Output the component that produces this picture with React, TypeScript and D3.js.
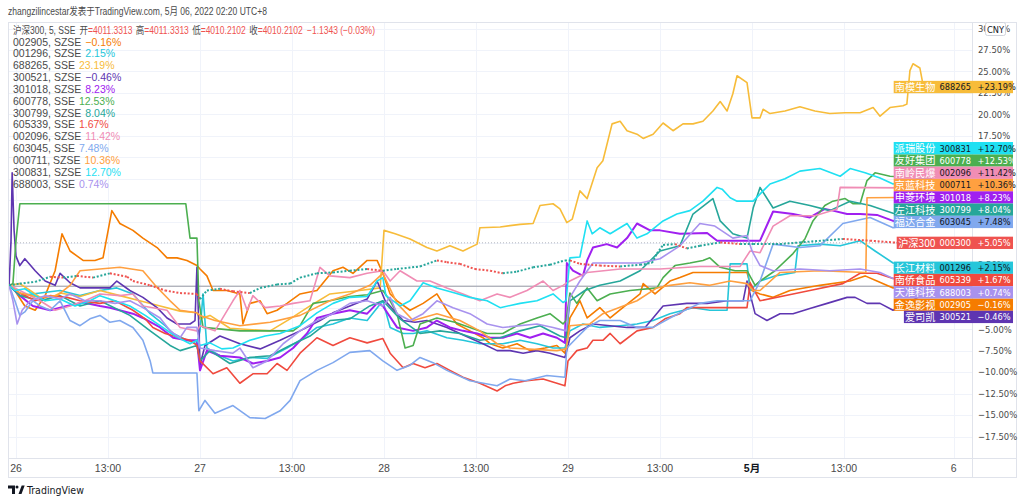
import React from 'react';
import * as d3 from 'd3';

// ---------- data ----------
// time unit: 5-minute bar index, bar 0 = 26 Apr 09:30, 48 bars per session
const timeTickBars = [0, 24, 48, 72, 96, 120, 144, 168, 192, 216, 244.6];
const timeTickLabels = ['26', '13:00', '27', '13:00', '28', '13:00', '29', '13:00', '5月', '13:00', '6'];
const pctTicks = [30, 27.5, 25, 22.5, 20, 17.5, 15, 12.5, 10, 7.5, 5, 2.5, 0, -2.5, -5, -7.5, -10, -12.5, -15, -17.5];

const indexName = '沪深300';
const indexCode = '000300';
const indexChange = 5.05;
const indexOHLC = ['4011.3313', '4011.3313', '4010.2102', '4010.2102'];
const indexDelta = '−1.1343 (−0.03%)';

const seriesCodes = ['002905', '001296', '688265', '300521', '301018', '600778', '300799', '605339', '002096', '603045', '000711', '300831', '688003'];
const seriesExchanges = ['SZSE', 'SZSE', 'SSE', 'SZSE', 'SZSE', 'SSE', 'SZSE', 'SSE', 'SZSE', 'SSE', 'SZSE', 'SZSE', 'SSE'];
const seriesNames = ['金逸影视', '长江材料', '南模生物', '爱司凯', '申菱环境', '友好集团', '左江科技', '南侨食品', '南岭民爆', '福达合金', '京蓝科技', '派瑞股份', '天准科技'];
const seriesChange = [-0.16, 2.15, 23.19, -0.46, 8.23, 12.53, 8.04, 1.67, 11.42, 7.48, 10.36, 12.70, 0.74];
const seriesColors = ['#f57c00', '#26c6da', '#f7bc3a', '#5e35b1', '#a020f0', '#4caf50', '#26a69a', '#f04a3e', '#f08db5', '#80a8ee', '#ffa040', '#1fe0f2', '#a892ee'];

// [bar, % change] pairs
const d002905 = [-1.8,0.1, -0.3,-0.5, 2.3,-2.3, 5,-2.8, 7.6,-1.1, 10.2,1.8, 12,6.1, 14.1,4.1, 17.5,3.0, 20.6,3.0, 22.7,3.3, 25,8.8, 27.1,7.3, 30.5,6.5, 33.1,5.6, 36.8,4.5, 39.4,3.3, 42,3.3, 44.6,3.0, 47.2,2.4, 48,2.0, 49.8,1.2, 51.4,-0.5, 55,-0.5, 58.4,-0.9, 59.2,-4.4, 61,-2.0, 63.7,-1.7, 65.5,-3.2, 68.1,-2.8, 70.7,-2.0, 74.1,-0.9, 78.5,-0.5, 82.7,1.8, 85.3,2.2, 87.9,1.5, 91.6,3.0, 94.2,3.0, 95.7,1.5, 97.6,-0.9, 99.4,-1.7, 102.8,-2.8, 106.2,-2.0, 109.8,-0.9, 112.4,-2.8, 115,-4.4, 118.4,-5.2, 121.8,-6.0, 123.7,-6.7, 127,-7.2, 130.7,-6.7, 134.1,-7.5, 138,-7.2, 141.1,-6.9, 143.2,-7.8, 144.5,-3.7, 147.1,-1.7, 149,-3.7, 152.3,-2.5, 155,-3.7, 158.3,-2.5, 162.8,-0.9, 163.6,0.3, 166.7,-0.9, 170.6,0.6, 173.2,1.0, 176.6,1.6, 190.7,1.6, 192,-0.5, 194.1,-0.9, 197.5,-1.3, 201.9,-0.5, 209.7,0.1, 217.6,0.6, 221.5,1.2, 224.6,0.6, 228.8,-0.2, 239,-0.16];
const d001296 = [-1.8,0.1, 1,-1.1, 6.3,-0.8, 11.5,-0.5, 16.7,-1.1, 21.9,-0.5, 26.3,-0.2, 30.5,-0.9, 35,-3.2, 38.9,-4.6, 41,-5.5, 44.6,-6.3, 47.2,-6.7, 48,-5.2, 48.8,-0.9, 49.8,-7.2, 53.2,-8.1, 56.6,-8.7, 61,-8.3, 65.5,-8.4, 70.7,-7.2, 74.1,-6.3, 78.5,-4.8, 82.7,-4.4, 87.1,-3.7, 91.6,-4.0, 95.7,-1.7, 97.6,-4.8, 101,-5.5, 103.6,-5.5, 107.2,-5.2, 112.4,-6.0, 116.6,-6.3, 121,-6.7, 127,-6.7, 131.5,-6.3, 135.9,-6.7, 140.1,-7.2, 143.2,-7.2, 144.5,-5.2, 147.9,-4.4, 152.3,-4.8, 157.6,-4.6, 162,-4.4, 166.2,-4.0, 170.6,-3.2, 176.6,-2.5, 181,-2.8, 185.5,-2.8, 186.3,2.6, 190.7,2.6, 191.5,-0.5, 194.1,0.6, 198,1.2, 203.2,1.6, 204,4.7, 209.7,4.9, 215,4.7, 220.2,5.3, 224.1,4.1, 228.8,2.7, 239,2.15];
const d688265 = [-1.8,0.1, 1,0.3, 3.7,-0.5, 7.6,-1.7, 11.5,-0.8, 16.7,-1.2, 21.9,-0.5, 27.1,-1.1, 32.3,-1.7, 37.6,-2.3, 42.8,-2.9, 47.2,-3.1, 48,-3.8, 50.6,-3.4, 55.8,-4.9, 66.3,-5.2, 71.5,-3.8, 76.7,-2.3, 81.9,-0.9, 89.7,-0.5, 95,-0.2, 96,6.5, 98.9,6.1, 102.8,5.5, 107.2,4.5, 109.8,4.1, 113.2,4.7, 116.6,4.1, 120.3,4.9, 121,6.8, 126.3,6.9, 131.5,7.2, 134.9,7.3, 136.7,9.4, 140.1,9.6, 141.9,9.0, 143.7,7.4, 145.1,7.8, 147.1,11.1, 149,10.2, 151.6,13.8, 153.1,14.6, 155.5,18.9, 157.6,19.2, 159.4,18.1, 162,17.7, 163.6,17.2, 166.2,17.7, 168.8,19.0, 171.4,18.1, 174,18.9, 176.6,18.9, 179.2,19.2, 181.8,20.4, 183.7,21.5, 185.5,20.4, 187,22.4, 188.1,24.5, 190.7,23.7, 192,19.6, 194.1,19.6, 194.9,20.6, 196.7,20.1, 200.6,20.4, 204.5,20.9, 208.4,20.4, 212.3,20.1, 216.3,20.2, 220.2,20.2, 223.6,20.8, 225.4,19.8, 228,20.8, 231.4,21.0, 232.4,21.2, 233.2,25.1, 234,25.9, 235.8,25.4, 236.6,23.5, 239,23.19];
const d300521 = [-1.8,0.1, -1.3,5.3, -1,13.2, -0.5,6.5, 0,3.5, 1,2.4, 2.3,3.2, 5,1.8, 7.6,0.6, 10.2,0.1, 11.5,1.5, 14.1,0.4, 16.7,-0.2, 24.5,-0.2, 26.3,0.6, 29.7,-0.5, 33.1,-1.3, 36.8,-2.5, 39.4,-3.7, 42,-4.4, 45.4,-4.4, 46.7,-4.0, 47.2,2.2, 48,-9.2, 49.3,-6.9, 53.2,-5.8, 58.4,-6.7, 63.7,-7.3, 68.9,-6.3, 74.1,-5.2, 79.3,-4.0, 82.7,-3.1, 87.1,-2.3, 91.6,-1.5, 94.2,0.6, 96.3,-1.7, 101,-4.0, 104.1,-4.2, 107.2,-4.0, 112.4,-4.8, 115.8,-5.5, 121.8,-6.7, 125.5,-7.5, 128.9,-7.5, 132.3,-7.8, 135.9,-7.5, 139.3,-7.8, 143.2,-8.3, 144.5,-6.0, 147.1,-5.2, 150.5,-4.4, 159.4,-4.8, 164.1,-4.8, 166.2,-3.7, 168.8,-2.3, 175,-2.0, 180.3,-2.0, 185.5,-1.7, 189.7,-1.7, 190.7,0.6, 191.5,-0.9, 192.8,-3.2, 195.9,-4.0, 199.3,-3.2, 202.7,-3.2, 207.1,-2.6, 211.6,-2.0, 216.8,-1.3, 218.9,-1.3, 222,-2.0, 225.4,-2.0, 228.8,-2.8, 239,-0.46];
const d301018 = [-1.8,0.1, 1,-1.1, 4.4,-2.3, 8.9,-2.8, 13.3,-2.3, 17.5,-1.9, 21.9,-2.3, 24.5,-2.5, 30.5,-3.2, 33.1,-3.7, 37.6,-4.8, 41,-6.0, 44.6,-6.3, 47.2,-6.3, 48,-9.8, 49.8,-7.5, 53.2,-8.1, 58.4,-8.3, 61.8,-9.0, 65.5,-8.7, 68.9,-8.3, 72.3,-7.2, 75.9,-5.5, 78.5,-3.7, 82.7,-3.2, 87.1,-2.8, 91.6,-3.2, 94.2,-2.0, 95.7,-2.3, 99.4,-4.8, 103.6,-5.2, 107.2,-4.8, 109.8,-4.0, 113.2,-4.8, 116.6,-5.2, 120.3,-5.5, 123.7,-6.0, 127,-6.0, 130.7,-5.5, 134.1,-6.0, 137.5,-5.5, 141.1,-6.0, 143.2,-6.6, 143.7,2.7, 145.3,1.8, 147.9,1.2, 149,3.0, 150.5,4.5, 154.1,4.9, 156.8,4.5, 159.4,5.6, 162,7.3, 165.4,6.5, 168,6.5, 173.2,6.1, 180.3,6.2, 182.9,5.3, 190.7,5.3, 194.1,5.3, 197.5,8.7, 202.7,8.4, 207.1,8.0, 211,9.0, 213.1,8.8, 216.8,8.4, 220.2,8.4, 224.6,8.3, 228.8,7.6, 239,8.23];
const d600778 = [-1.8,0.1, -0.8,0.3, 0,5.3, 1,9.6, 44.3,9.6, 45.4,5.6, 47.2,5.6, 47.7,-1.7, 48.8,-4.8, 58.4,-5.2, 72.3,-5.2, 74.1,-4.6, 77.5,-2.0, 81.9,-1.7, 87.1,-1.2, 91.6,-1.0, 95.7,-0.5, 97.6,-1.7, 99.4,-3.2, 101.5,-7.2, 103.6,-6.9, 105.4,-4.4, 109.8,-3.7, 114.5,-4.2, 118.4,-4.8, 122.9,-5.5, 127,-5.5, 131.5,-4.4, 135.9,-3.7, 139.3,-3.2, 142.7,-4.4, 143.5,-4.0, 144.5,-0.8, 146.3,-2.0, 149,-0.2, 151.6,-1.7, 155,-0.9, 160.2,-0.5, 167.2,-0.2, 168.8,1.0, 171.9,2.4, 175.8,2.7, 179.2,3.0, 181,3.3, 183.7,2.2, 187.6,1.8, 190.7,1.8, 192.8,0.1, 194.1,0.6, 198,1.8, 202.7,3.8, 205.8,5.5, 207.9,7.6, 211,9.4, 213.1,9.9, 216.3,10.2, 218.4,9.6, 220.2,9.6, 222,12.3, 224.1,13.2, 228,12.8, 239,12.53];
const d300799 = [-1.8,0.1, 1,-1.1, 6.3,-1.7, 11.5,-1.1, 16.7,-2.3, 21.9,-1.7, 29.7,-3.4, 35,-5.2, 40.2,-6.9, 42.8,-7.5, 47.2,-6.9, 48,-8.7, 50.6,-7.5, 55.8,-9.0, 61,-8.3, 66.3,-8.1, 71.5,-6.9, 76.7,-5.8, 81.9,-4.0, 87.1,-3.8, 92.3,-2.3, 95.7,-1.7, 100.2,-3.8, 105.4,-5.5, 110.6,-5.2, 115.8,-5.5, 121,-6.3, 126.3,-6.0, 131.5,-5.2, 136.7,-4.6, 141.9,-5.8, 143.5,-6.0, 144.5,-1.7, 148.4,-0.5, 152.3,0.1, 157.6,0.6, 162.8,1.8, 168,4.1, 173.2,4.7, 176.6,8.4, 181.8,10.2, 183.7,7.6, 187,6.1, 190.7,5.6, 192.3,9.1, 194.1,11.5, 197.5,9.1, 201.9,9.9, 207.1,9.4, 212.3,8.8, 217.6,9.9, 222.8,9.4, 228.8,8.5, 239,8.04];
const d605339 = [-1.8,0.1, 1,-0.8, 5,-1.7, 8.9,-1.1, 13.3,-1.3, 16.7,-1.7, 21.9,-2.0, 25.8,-1.7, 30.5,-2.8, 33.7,-3.8, 35.7,-4.8, 38.9,-5.5, 42.8,-6.0, 45.4,-6.3, 47.2,-6.9, 48,-8.7, 51.4,-10.2, 55,-9.5, 58.4,-11.3, 61.8,-10.2, 65.5,-10.2, 68.1,-9.0, 70.7,-9.8, 74.1,-7.8, 78.5,-6.0, 82.7,-6.9, 87.1,-6.0, 91.6,-6.6, 95.7,-6.1, 97.6,-7.8, 101,-9.5, 103.6,-9.0, 106.7,-9.5, 109.8,-9.0, 113.2,-9.8, 116.6,-10.6, 121,-11.3, 125.5,-12.2, 127.6,-11.6, 129.7,-11.3, 133.3,-11.0, 137.5,-10.8, 141.1,-11.3, 143.2,-11.6, 144,-8.7, 146.3,-7.5, 149,-7.2, 150.5,-6.3, 153.1,-6.3, 155,-5.5, 157.6,-6.7, 162,-5.2, 166.2,-4.8, 169.3,-3.8, 173.2,-3.2, 175,-2.5, 190.7,-2.5, 191.5,0.4, 194.1,-1.7, 202.7,-0.9, 207.1,-0.5, 215.7,0.3, 220.2,1.5, 224.6,1.5, 228.8,0.9, 239,1.67];
const d002096 = [-1.8,0.1, 1,-0.5, 6.3,-1.7, 10.2,-2.8, 14.1,-2.3, 18,-1.7, 21.9,-0.9, 27.1,-1.1, 30.5,-0.9, 33.1,-2.3, 39.4,-2.8, 42.8,-4.8, 47.2,-5.2, 48,-4.6, 51.9,-5.2, 56.6,-1.7, 58.4,-0.5, 60.3,-2.8, 61.8,-1.1, 65,-2.5, 68.9,-2.3, 72.3,-2.0, 76.7,-1.7, 79.3,2.2, 81.9,1.2, 87.1,1.0, 91.6,1.5, 95.7,1.8, 97.6,0.6, 100.2,1.8, 104.6,0.6, 108,0.6, 112.4,-0.2, 116.6,-0.9, 121,-1.7, 125.5,-0.9, 128.9,-1.3, 133.3,-0.5, 137.5,0.6, 140.1,-0.5, 142.7,0.1, 144.5,0.6, 149,1.6, 157.6,2.0, 168,2.0, 178.4,2.3, 188.9,2.3, 191.5,4.1, 194.1,3.9, 197.5,7.0, 201.9,8.2, 208.4,8.2, 214.2,9.0, 215,11.5, 239,11.42];
const d603045 = [-1.8,0.1, -0.3,-1.7, 1,-3.4, 2.3,-3.0, 4.4,-1.7, 6.3,-2.3, 8.9,-2.8, 11.5,-1.7, 14.1,-4.0, 16.7,-4.6, 19.3,-3.8, 21.9,-3.4, 24.5,-4.2, 27.1,-4.0, 30.5,-4.8, 33.1,-6.3, 35,-8.7, 35.7,-10.1, 47.2,-10.1, 47.7,-14.5, 49.3,-13.3, 51.9,-14.8, 56.6,-13.9, 61,-15.3, 65,-15.4, 68.9,-14.5, 71.5,-13.3, 74.1,-11.0, 78.5,-9.8, 82.7,-8.9, 87.1,-7.7, 92.3,-7.5, 95.7,-8.7, 99.4,-9.8, 102.8,-9.2, 105.4,-8.3, 108.8,-8.9, 112.4,-9.8, 118.4,-11.0, 125.5,-11.6, 128.9,-10.8, 132.8,-11.0, 138.5,-10.4, 143.2,-10.6, 143.7,-7.2, 146.3,-6.0, 149,-4.8, 152.3,-4.0, 157.6,-4.0, 162,-4.8, 166.2,-4.8, 170.6,-3.7, 174.5,-2.8, 178.4,-2.0, 182.9,-1.7, 191.5,-1.7, 194.1,0.6, 197.5,4.9, 204.5,4.5, 209.7,4.7, 215.7,7.3, 222.8,8.0, 228.8,6.8, 239,7.48];
const d000711 = [-1.8,0.1, 1,-0.8, 6.3,-1.3, 10.7,-1.1, 14.1,0.1, 16.7,1.8, 21.9,2.0, 27.1,2.2, 33.1,1.8, 36.3,0.1, 40.2,-1.7, 42.8,-2.8, 47.2,-3.1, 48,-3.4, 51.9,-4.0, 58.4,-4.6, 66.3,-4.2, 74.1,-3.4, 81.9,-1.7, 87.1,-0.9, 92.3,0.1, 95.7,1.5, 99.4,-2.0, 103.6,-4.0, 109.8,-3.2, 115.8,-4.0, 121,-5.2, 125.5,-6.7, 128.9,-7.2, 141.1,-7.5, 143.5,-7.3, 144.5,-4.6, 149.7,-4.4, 153.1,-3.2, 162,-1.7, 167.2,-0.2, 170.6,0.1, 175.8,0.4, 181,0.1, 186.3,0.6, 190.7,0.3, 192.3,-0.5, 194.1,-0.5, 199.3,1.6, 209.7,1.8, 221.7,1.6, 222,10.3, 239,10.36];
const d300831 = [-1.8,0.1, -0.3,-0.5, 2.3,-0.3, 5,-1.1, 7.6,-1.7, 11.5,-1.5, 15.4,-2.3, 19.3,-1.7, 21.9,-1.1, 25.8,-1.7, 29.7,-2.3, 33.7,-3.4, 37.6,-4.6, 41.5,-5.8, 45.4,-6.7, 47.2,-6.3, 48,-6.9, 50.6,-6.6, 53.7,-7.3, 56.6,-7.2, 61,-6.3, 65,-5.8, 68.9,-5.5, 74.1,-4.6, 78.5,-3.1, 82.7,-2.0, 87.1,-1.3, 91.6,-1.2, 94.2,0.6, 95.7,1.0, 96.5,-1.1, 100.2,-2.3, 102.8,-1.7, 106.2,0.4, 109.8,-0.2, 114.5,-0.8, 118.4,-1.3, 122.9,-1.7, 126.3,-2.5, 131.5,-2.0, 135.9,-1.7, 140.1,-0.9, 142.7,-1.9, 143.5,-1.7, 144.5,3.3, 147.1,3.4, 149,7.6, 150.3,6.1, 152.3,6.8, 155,6.1, 159.4,7.3, 162,5.6, 164.6,6.1, 168.8,7.6, 172.4,8.4, 175.8,8.8, 179.2,9.9, 182.9,11.5, 184.2,11.3, 186.3,10.3, 188.1,9.9, 192.3,9.9, 194.9,11.1, 196.7,11.9, 200.6,12.5, 204.5,13.4, 209.7,13.7, 215,12.8, 217.6,13.7, 221.5,13.2, 225.4,12.6, 228.8,11.9, 233.2,12.3, 239,12.70];
const d688003 = [-1.8,0.1, -0.8,-1.7, 0.3,-4.4, 1.6,-2.8, 3.7,-1.7, 7.6,-1.1, 11.5,-1.5, 14.1,-0.9, 18,-1.7, 21.9,-1.7, 25.8,-2.0, 29.7,-1.7, 33.1,-2.5, 37.6,-3.7, 40.2,-5.2, 42.8,-6.0, 44.6,-4.8, 47.2,-4.8, 48,-7.2, 51.9,-7.5, 56.6,-7.8, 58.4,-7.2, 61.8,-9.5, 65.5,-8.7, 69.7,-6.7, 74.1,-5.2, 78.5,-4.0, 82.7,-3.2, 87.1,-2.0, 91.6,-1.7, 95.7,-2.3, 97.6,-1.3, 99.4,-3.2, 102.8,-4.0, 106.2,-3.2, 109.8,-1.7, 114,-2.5, 118.4,-3.2, 122.9,-4.4, 127,-4.8, 135.9,-4.4, 140.1,-4.8, 143.5,-5.2, 144.5,-1.3, 147.1,0.6, 150.5,2.7, 155.7,2.7, 162.8,2.7, 168,3.2, 173.2,4.7, 178.4,7.3, 182.3,7.0, 187,5.6, 190.7,5.9, 192,4.1, 194.1,2.4, 197.5,1.8, 204.5,2.0, 212.3,1.8, 220.2,2.0, 225.4,1.6, 228.8,0.9, 239,0.74];
const d000300 = [-1.8,0.1, 1,0.3, 5,0.5, 8.9,1.1, 12.3,1.0, 15.9,1.2, 20.1,1.0, 24.5,1.5, 29,1.1, 30.5,0.6, 35,0.1, 38.9,-0.5, 42.8,-0.8, 47.2,-0.9, 48,-1.5, 49.8,-0.5, 53.2,-0.3, 56.6,-0.6, 61,-0.8, 63.7,-0.2, 68.1,0.2, 71.5,0.3, 74.1,1.0, 78.5,1.5, 82.7,1.6, 87.1,1.8, 91.6,2.0, 95.7,1.8, 99.4,2.0, 105.4,2.3, 109.8,3.0, 112.4,2.8, 115.8,2.6, 119.7,2.0, 123.7,1.8, 127,1.5, 130.7,1.7, 134.9,2.2, 139.3,2.5, 143.2,3.0, 144.5,3.0, 147.1,2.6, 152.3,2.4, 157.6,2.3, 162.8,2.5, 165.9,2.7, 167.2,3.8, 168.8,4.8, 171.9,4.9, 175,4.4, 178.4,4.7, 183.7,5.1, 188.9,4.9, 192.3,4.9, 199.3,4.9, 204.5,5.1, 215.7,5.5, 222.8,5.3, 228.8,5.1, 239,5.05];

const seriesData = [d002905, d001296, d688265, d300521, d301018, d600778, d300799, d605339, d002096, d603045, d000711, d300831, d688003];

// ---------- helpers ----------
const pairs = (a: number[]) => d3.range(0, a.length, 2).map(i => [a[i], a[i + 1]] as [number, number]);
const fmtPct = (v: number) => (v >= 0 ? '+' : '−') + Math.abs(v).toFixed(2) + '%';
const fmtLegend = (v: number) => (v >= 0 ? '' : '−') + Math.abs(v).toFixed(2) + '%';
const NARROW = "'Liberation Sans Narrow', 'DejaVu Sans Condensed', 'Liberation Sans', sans-serif";
const MIXED = "'Liberation Sans Narrow', 'Liberation Sans', 'Noto Sans CJK SC', sans-serif";
const CJK = "'Noto Sans CJK SC', sans-serif";
const textW = (s: string) => Array.from(s).reduce((w, ch) => w + (/[\u4e00-\u9fff]/.test(ch) ? 10.2 : 5.8), 0);

export default function App() {
  const W = 1024, H = 503;
  const L = 8, R = 972, T = 22, B = 458, RR = 1017, BB = 478;
  const x = d3.scaleLinear().domain([0, 48]).range([16, 200]);
  const y = d3.scaleLinear().domain([-17.5, 27.5]).range([436.5, 50]);
  const line = d3.line<[number, number]>().x(d => x(d[0])).y(d => y(d[1]));

  const series = seriesCodes.map((code, i) => ({
    code, exch: seriesExchanges[i], name: seriesNames[i], change: seriesChange[i],
    color: seriesColors[i], data: pairs(seriesData[i]), ly: 0,
  }));
  const idx = pairs(d000300);

  // label placement: index label fixed, others stacked away from it
  const labelH = 12.3;
  const mainY = y(indexChange);
  const above = series.filter(s => y(s.change) < mainY).sort((a, b) => a.change - b.change);
  let prev = mainY;
  above.forEach(s => { s.ly = Math.min(y(s.change), prev - labelH); prev = s.ly; });
  const below = series.filter(s => y(s.change) >= mainY).sort((a, b) => b.change - a.change);
  prev = mainY;
  below.forEach(s => { s.ly = Math.max(y(s.change), prev + labelH); prev = s.ly; });

  const labels = [
    ...series.map(s => ({ name: s.name, code: s.code, change: s.change, color: s.color, cy: s.ly })),
    { name: indexName, code: indexCode, change: indexChange, color: '#ef5350', cy: mainY },
  ];
  // axis tick texts that lie entirely under the value labels are not visible
  const covered = (ty: number) => [-4, -1, 2].every(dy =>
    labels.some(lb => Math.abs(ty + dy - lb.cy) <= labelH / 2 + 0.2));
  const visibleTicks = pctTicks.filter(t => !covered(y(t)));

  return (
    <div style={{ position: 'absolute', left: 0, top: 0 }}>
      <svg width={W} height={H} style={{ display: 'block', background: '#fff' }}>
        <defs>
          <clipPath id="pane"><rect x={L} y={T} width={R - L} height={B - T} /></clipPath>
        </defs>
        <text x={8} y={14.5} fontSize={10.5} fill="#4a4a4a" fontFamily={MIXED} textLength={259} lengthAdjust="spacingAndGlyphs">zhangzilincestar发表于TradingView.com, 5月 06, 2022 02:20 UTC+8</text>

        {/* grid */}
        <g stroke="#f0f3fa" strokeWidth={1}>
          {pctTicks.map(t => <line key={'h' + t} x1={L} x2={R} y1={Math.round(y(t)) + 0.5} y2={Math.round(y(t)) + 0.5} />)}
          {timeTickBars.map(b => <line key={'v' + b} x1={Math.round(x(b)) + 0.5} x2={Math.round(x(b)) + 0.5} y1={T} y2={B} />)}
        </g>

        {/* baselines */}
        <line x1={L} x2={R} y1={y(0)} y2={y(0)} stroke="#9598a1" strokeWidth={1} />
        <line x1={L} x2={R} y1={mainY} y2={mainY} stroke="#b2b5be" strokeWidth={1} strokeDasharray="1 2" />

        <g clipPath="url(#pane)" fill="none" strokeLinejoin="round">
          {series.map(s => (
            <path key={s.code} d={line(s.data) || ''} stroke={s.color} strokeWidth={s.code === '301018' ? 2 : 1.6} />
          ))}
          {idx.slice(1).map((p, i) => {
            const q = idx[i];
            return <line key={'c' + i} x1={x(q[0])} y1={y(q[1])} x2={x(p[0])} y2={y(p[1])}
              stroke={p[1] >= q[1] ? '#26a69a' : '#ef5350'} strokeWidth={2} strokeDasharray="2 1.8" />;
          })}
        </g>

        {/* legend */}
        <g fontFamily={MIXED} fontSize={10.5}>
          <text x={13} y={33.5} fontSize={10.2} textLength={362} lengthAdjust="spacingAndGlyphs">
            <tspan fill="#4a4a4a">{indexName}, 5, SSE</tspan>
            <tspan fill="#4a4a4a" dx={5}>开</tspan><tspan fill="#ef5350">={indexOHLC[0]}</tspan>
            <tspan fill="#4a4a4a" dx={4}>高</tspan><tspan fill="#ef5350">={indexOHLC[1]}</tspan>
            <tspan fill="#4a4a4a" dx={4}>低</tspan><tspan fill="#ef5350">={indexOHLC[2]}</tspan>
            <tspan fill="#4a4a4a" dx={4}>收</tspan><tspan fill="#ef5350">={indexOHLC[3]}</tspan>
            <tspan fill="#ef5350" dx={5}>{indexDelta}</tspan>
          </text>
          {series.map((s, i) => (
            <text key={'lg' + s.code} x={13} y={45.5 + i * 11.85}>
              <tspan fill="#4a4a4a">{s.code}, {s.exch}</tspan>
              <tspan fill={s.color} dx={4}>{fmtLegend(s.change)}</tspan>
            </text>
          ))}
        </g>

        {/* frame */}
        <g stroke="#e0e3eb" strokeWidth={1} fill="none">
          <rect x={L + 0.5} y={T + 0.5} width={RR - L - 1} height={BB - T - 1} />
          <line x1={R + 0.5} x2={R + 0.5} y1={T} y2={BB} />
          <line x1={L} x2={RR} y1={B + 0.5} y2={B + 0.5} />
        </g>

        {/* price axis */}
        <g fontFamily={NARROW} fontSize={9.4} fill="#4a4a4a">
          {visibleTicks.map(t => (
            <text key={'pt' + t} x={978} y={y(t) + 3.4}>{fmtLegend(t)}</text>
          ))}
        </g>
        <rect x={985.5} y={22.5} width={20} height={13} rx={2} fill="#fff" stroke="#d1d4dc" />
        <text x={995.5} y={32.5} textAnchor="middle" fontFamily={NARROW} fontSize={9.2} fill="#131722">CNY</text>

        {/* time axis */}
        <g fontFamily={MIXED} fontSize={10.5} fill="#4a4a4a" textAnchor="middle">
          {timeTickBars.map((b, i) => (
            <text key={'tt' + i} x={x(b)} y={471.5} fontWeight={timeTickLabels[i] === '5月' ? 'bold' : 'normal'}
              fill={timeTickLabels[i] === '5月' ? '#131722' : '#4a4a4a'}>{timeTickLabels[i]}</text>
          ))}
        </g>

        {/* last value labels */}
        {labels.map(lb => {
          const nw = textW(lb.name);
          const x0 = 936 - nw - 1.5;
          const tc = d3.lab(lb.color).l > 67 ? '#131722' : '#ffffff';
          return (
            <g key={'lb' + lb.code}>
              <rect x={x0} y={lb.cy - labelH / 2} width={1013 - x0} height={labelH} fill={lb.color} />
              <text x={935.5} y={lb.cy + 4} textAnchor="end" fill="#ffffff" fontFamily={CJK} fontSize={10.2}>{lb.name}</text>
              <text x={939.5} y={lb.cy + 3.4} fill={tc} fontFamily={NARROW} fontSize={9.2}>{lb.code}</text>
              <text x={977.5} y={lb.cy + 3.4} fill={tc} fontFamily={NARROW} fontSize={9.2}>{fmtPct(lb.change)}</text>
            </g>
          );
        })}

        {/* TradingView logo */}
        <g fill="#131722">
          <path d="M8 485.5h7v8.5h-3v-5.5h-4z" />
          <circle cx={17} cy={487} r={1.5} />
          <path d="M18.5 494l3.2-8.5h3l-3.2 8.5z" />
        </g>
        <text x={27} y={494} fontFamily={NARROW} fontSize={10.5} fill="#131722">TradingView</text>
      </svg>
    </div>
  );
}
